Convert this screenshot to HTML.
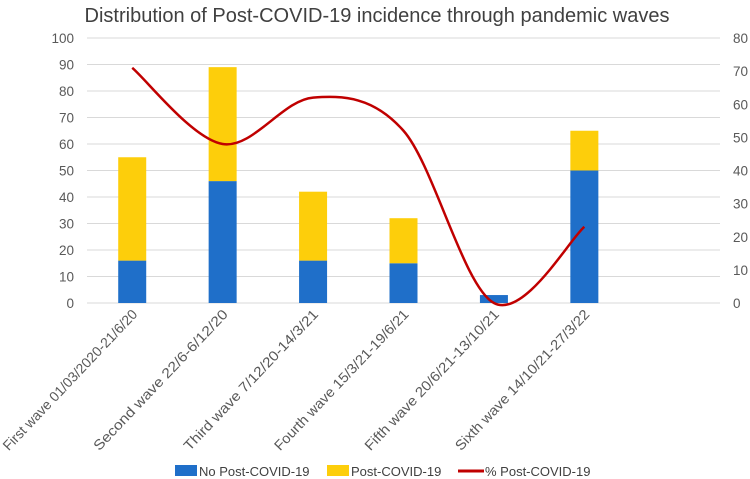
<!DOCTYPE html>
<html><head><meta charset="utf-8">
<style>
body{margin:0;background:#fff;}
svg{display:block;font-family:"Liberation Sans",sans-serif;}
</style></head>
<body>
<svg id="chart" width="750" height="479" viewBox="0 0 750 479">
<text x="377" y="22" text-anchor="middle" font-size="20.5" fill="#404040" textLength="585" lengthAdjust="spacingAndGlyphs">Distribution of Post-COVID-19 incidence through pandemic waves</text>
<g id="grid"></g><g id="bars"></g><g id="line"></g><g id="axes"></g>
<g>
 <g><rect x="175" y="465" width="22" height="11" fill="#1f6fc9"/><text x="199" y="476" font-size="13" fill="#404040">No Post-COVID-19</text></g>
 <g><rect x="327" y="465" width="22" height="11" fill="#fdce0b"/><text x="351" y="476" font-size="13" fill="#404040">Post-COVID-19</text></g>
 <g><line x1="458" y1="471" x2="484" y2="471" stroke="#c00000" stroke-width="3"/><text x="485" y="476" font-size="13" fill="#404040">% Post-COVID-19</text></g>
</g>
</svg>
<script>
const categories=["First wave 01/03/2020-21/6/20","Second wave 22/6-6/12/20","Third wave 7/12/20-14/3/21","Fourth wave 15/3/21-19/6/21","Fifth wave 20/6/21-13/10/21","Sixth wave 14/10/21-27/3/22"];
const noPost=[16,46,16,15,3,50];
const post=[39,43,26,17,0,15];
const pctPost=[71,48,62,52,0,23];
const leftTicks=[0,10,20,30,40,50,60,70,80,90,100];
const rightTicks=[0,10,20,30,40,50,60,70,80];
const NS="http://www.w3.org/2000/svg";
const X0=87,X1=720,Y0=303,Y1=38,slots=7,bw=28;
const band=(X1-X0)/slots;
const xc=i=>X0+band*(i+0.5);
const yL=v=>Y0-(v/100)*(Y0-Y1);
const yR=v=>Y0-(v/80)*(Y0-Y1);
function mk(tag,attrs,parent){const e=document.createElementNS(NS,tag);for(const k in attrs)e.setAttribute(k,attrs[k]);parent.appendChild(e);return e;}
const grid=document.getElementById('grid'),axes=document.getElementById('axes'),bars=document.getElementById('bars'),line=document.getElementById('line');
leftTicks.forEach(t=>{
 const g=mk('line',{x1:X0,x2:X1,y1:yL(t),y2:yL(t),stroke:'#d9d9d9','stroke-width':1},grid);
 
 
 const tx=mk('text',{x:74,y:yL(t)+5,'text-anchor':'end','font-size':13.5,fill:'#595959'},axes);
 tx.textContent=t;
 
 
});
rightTicks.forEach(t=>{
 const tx=mk('text',{x:733,y:yR(t)+5,'text-anchor':'start','font-size':13.5,fill:'#595959'},axes);
 tx.textContent=t;
 
 
});
categories.forEach((c,i)=>{
 const x=xc(i);
 const b=mk('rect',{x:x-bw/2,y:yL(noPost[i]),width:bw,height:yL(0)-yL(noPost[i]),fill:'#1f6fc9'},bars);
 
 
 const y2=mk('rect',{x:x-bw/2,y:yL(noPost[i]+post[i]),width:bw,height:yL(noPost[i])-yL(noPost[i]+post[i]),fill:'#fdce0b'},bars);
 
 
 const tx=mk('text',{transform:`translate(${x+6},${Y0+12}) rotate(-46.5)`,'text-anchor':'end','font-size':14,fill:'#595959',textLength:188,lengthAdjust:'spacingAndGlyphs'},axes);
 tx.textContent=c;
 
 
});
const pts=pctPost.map((v,i)=>[xc(i),yR(v)]);
let d=`M${pts[0][0]},${pts[0][1]}`;
for(let i=0;i<pts.length-1;i++){
 const p0=pts[Math.max(i-1,0)],p1=pts[i],p2=pts[i+1],p3=pts[Math.min(i+2,pts.length-1)];
 const c1=[p1[0]+(p2[0]-p0[0])/6,p1[1]+(p2[1]-p0[1])/6];
 const c2=[p2[0]-(p3[0]-p1[0])/6,p2[1]-(p3[1]-p1[1])/6];
 d+=` C${c1[0]},${c1[1]} ${c2[0]},${c2[1]} ${p2[0]},${p2[1]}`;
}
const pl=mk('path',{d:d,fill:'none',stroke:'#c00000','stroke-width':2.5},line);


</script>
</body></html>
